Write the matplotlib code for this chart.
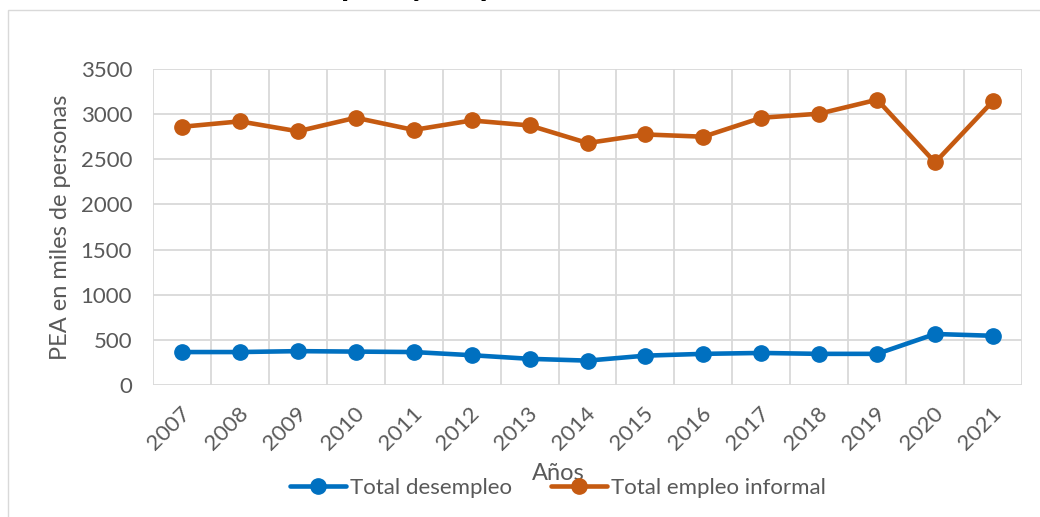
import matplotlib
matplotlib.use("Agg")
import matplotlib.pyplot as plt
from matplotlib.transforms import ScaledTranslation
from matplotlib.patches import Rectangle
from matplotlib.font_manager import FontProperties

years = ["2007", "2008", "2009", "2010", "2011", "2012", "2013", "2014",
         "2015", "2016", "2017", "2018", "2019", "2020", "2021"]
desempleo = [365, 365, 375, 370, 365, 330, 290, 270, 325, 345, 355, 345, 345, 565, 545]
informal = [2860, 2920, 2810, 2960, 2825, 2930, 2875, 2680, 2775, 2750, 2960, 3005, 3160, 2465, 3145]
yticks = [0, 500, 1000, 1500, 2000, 2500, 3000, 3500]

title = "Tendencia de desempleo y empleo informal"
xlabel = "Años"
ylabel = "PEA en miles de personas"
labels = ["Total desempleo", "Total empleo informal"]

BLUE = "#0070C0"
ORANGE = "#C55A11"
GRID = "#D9D9D9"
TXT = "#595959"

plt.rcParams["font.family"] = ["Lato", "DejaVu Sans"]

W, H = 1040, 517
fig = plt.figure(figsize=(W / 100, H / 100), dpi=100)

# outer chart border
fig.patches.append(Rectangle((8 / W, -0.1), 1.2, (H - 10) / H + 0.1, transform=fig.transFigure,
                             fill=False, edgecolor=GRID, linewidth=1.0))

# title, clipped at the top edge as in the reference (only its lowest pixels show)
renderer = fig.canvas.get_renderer()
fp = FontProperties(family="Lato", weight="bold", style="italic", size=22)
w_pp = renderer.get_text_width_height_descent("pleo y em", fp, ismath=False)[0]
tsize = 22 * 138 / w_pp
fp.set_size(tsize)
w_pre = renderer.get_text_width_height_descent("Tendencia de desem", fp, ismath=False)[0]
x0 = 343 - w_pre
fig.text(x0 / W, 1 + 5.0 / H, title, ha="left", va="baseline",
         fontproperties=fp, color="black")

ax = fig.add_axes([153 / W, 1 - 385 / H, (1022 - 153) / W, (385 - 69) / H])
x = list(range(len(years)))
l1, = ax.plot(x, desempleo, color=BLUE, lw=3.3, marker="o", ms=11, solid_capstyle="round",
              label=labels[0], zorder=3)
l2, = ax.plot(x, informal, color=ORANGE, lw=3.3, marker="o", ms=11, solid_capstyle="round",
              label=labels[1], zorder=3)

ax.set_xlim(-0.5, len(years) - 0.5)
ax.set_ylim(0, 3500)
ax.set_yticks(yticks)
ax.set_yticklabels([str(v) for v in yticks])
ax.set_xticks(x)
ax.set_xticklabels(years)

for yv in yticks:
    ax.axhline(yv, color=GRID, lw=1.3, zorder=1)
for i in range(len(years) + 1):
    ax.axvline(i - 0.5, color=GRID, lw=1.3, zorder=1)
for s in ax.spines.values():
    s.set_visible(False)

ax.tick_params(axis="both", length=0, colors=TXT, labelsize=16)
ax.tick_params(axis="y", pad=15)
ax.tick_params(axis="x", pad=18)
off = ScaledTranslation(5 / 100, 0, fig.dpi_scale_trans)
for lab in ax.get_xticklabels():
    lab.set_rotation(45)
    lab.set_rotation_mode("anchor")
    lab.set_ha("right")
    lab.set_va("center")
    lab.set_transform(lab.get_transform() + off)

fig.text(558 / W, 1 - 473 / H, xlabel, ha="center", va="center", fontsize=17, color=TXT)
fig.text(61 / W, 1 - 227 / H, ylabel, ha="center", va="center", rotation=90,
         fontsize=17, color=TXT)

leg = fig.legend(handles=[l1, l2], labels=labels, loc="center", bbox_to_anchor=(558 / W, 1 - 488 / H),
                 ncol=2, frameon=False, fontsize=16, handlelength=2.5, handletextpad=0.2,
                 columnspacing=1.75, labelcolor=TXT, borderaxespad=0, borderpad=0)

fig.savefig("out.png", dpi=100, facecolor="white")
